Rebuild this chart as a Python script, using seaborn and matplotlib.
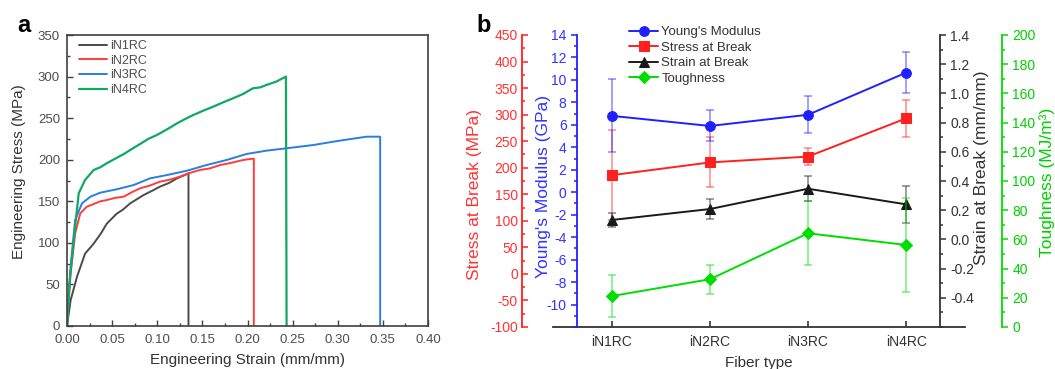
import matplotlib
matplotlib.use("Agg")
import matplotlib.pyplot as plt
import seaborn as sns
import numpy as np
from matplotlib.ticker import MultipleLocator, FormatStrFormatter

# ---- panel a: stress-strain curves ----
n1_strain = [0, 0.004, 0.011, 0.020, 0.0295, 0.038, 0.044, 0.055, 0.062, 0.070, 0.085, 0.095,
             0.103, 0.113, 0.122, 0.1346, 0.1346]
n1_stress = [0, 31, 59, 87, 99, 112, 123, 135, 140, 147.5, 157.6, 163, 167.6, 172, 177.6, 183.6, 0]

n2_strain = [0, 0.004, 0.009, 0.0147, 0.022, 0.0295, 0.037, 0.044, 0.053, 0.063, 0.072, 0.081,
             0.092, 0.103, 0.114, 0.125, 0.136, 0.147, 0.158, 0.170, 0.181, 0.192, 0.200, 0.207, 0.207]
n2_stress = [0, 63, 111, 135.5, 143.5, 146.7, 150, 151.5, 154, 155.6, 161, 165.6, 169, 173.6,
             176, 179.6, 184, 187.6, 189.5, 193.7, 196, 198.9, 200.5, 201.3, 0]

n3_strain = [0, 0.004, 0.009, 0.0166, 0.026, 0.037, 0.055, 0.074, 0.092, 0.111, 0.133, 0.155,
             0.177, 0.199, 0.221, 0.243, 0.273, 0.302, 0.332, 0.347, 0.347]
n3_stress = [0, 71, 127.5, 147.5, 155.6, 160.4, 164.4, 169.6, 177.6, 181.6, 186.8, 193.7,
             199.7, 206.9, 210.9, 213.7, 217.7, 222.9, 227.7, 227.7, 0]

n4_strain = [0, 0.0026, 0.0074, 0.013, 0.020, 0.0295, 0.037, 0.044, 0.053, 0.063, 0.072, 0.081,
             0.090, 0.0995, 0.110, 0.122, 0.131, 0.140, 0.151, 0.162, 0.173, 0.184, 0.195, 0.206,
             0.214, 0.221, 0.232, 0.2426, 0.2433]
n4_stress = [0, 51, 103, 159.6, 175.6, 187.6, 191, 195.7, 201, 206.9, 213, 218.9, 225, 229.7,
             236, 243.8, 249, 253.8, 259, 263.8, 269, 273.9, 279, 285.9, 287, 289.9, 294, 300, 0]

curve_names = ["iN1RC", "iN2RC", "iN3RC", "iN4RC"]
curve_colors = ["#4a4a4a", "#ff3c3c", "#2a7de1", "#11a862"]

# ---- panel b: properties per fiber type ----
fibers = ["iN1RC", "iN2RC", "iN3RC", "iN4RC"]
modulus = [6.8, 5.9, 6.9, 10.65]
modulus_err = [3.25, 1.38, 1.63, 1.8]
stress_break = [186, 210, 221, 293]
stress_err = [85, 47, 16.6, 34.5]
strain_break = [0.133, 0.208, 0.347, 0.24]
strain_err = [0.05, 0.07, 0.085, 0.125]
toughness = [21.2, 32.7, 64.2, 56.2]
toughness_err = [14.5, 10, 22, 32]

sns.set_theme(style="ticks")
plt.rcParams["font.family"] = ["Liberation Sans", "DejaVu Sans"]

W, H = 1055, 369
fig = plt.figure(figsize=(W / 100, H / 100), dpi=100)

# ================= panel a =================
ax = fig.add_axes([67 / W, 1 - 326 / H, 361 / W, 291 / H])
curves = [(n1_strain, n1_stress), (n2_strain, n2_stress), (n3_strain, n3_stress), (n4_strain, n4_stress)]
for (xs, ys), name, c in zip(curves, curve_names, curve_colors):
    sns.lineplot(x=xs, y=ys, sort=False, estimator=None, color=c,
                 lw=1.6 if name == "iN4RC" else 1.4, label=name, ax=ax)

ax.set_xlim(0, 0.40)
ax.set_ylim(0, 350)
ax.xaxis.set_major_locator(MultipleLocator(0.05))
ax.xaxis.set_minor_locator(MultipleLocator(0.025))
ax.xaxis.set_major_formatter(FormatStrFormatter("%.2f"))
ax.yaxis.set_major_locator(MultipleLocator(50))
ax.yaxis.set_minor_locator(MultipleLocator(25))
ax.tick_params(which="both", direction="in", color="#404040", labelsize=9.5,
               labelcolor="#4d4d4d", width=1)
ax.tick_params(which="major", length=4)
ax.tick_params(which="minor", length=2.5)
ax.tick_params(axis="x", pad=6)
ax.tick_params(axis="y", pad=5)
for s in ax.spines.values():
    s.set_color("#404040")
    s.set_linewidth(1.2)

ax.set_xlabel("Engineering Strain (mm/mm)", fontsize=11, color="#333333")
ax.set_ylabel("Engineering Stress (MPa)", fontsize=11, color="#333333")
ax.xaxis.set_label_coords(0.5, (326 - 353) / 291)
ax.yaxis.set_label_coords((26 - 67) / 361, (326 - 172) / 291)

leg = ax.legend(loc="upper left", bbox_to_anchor=(79 / W, 1 - 40 / H), bbox_transform=fig.transFigure,
                frameon=False, fontsize=9, handlelength=2.2, handletextpad=0.3,
                labelspacing=0.22, borderpad=0, borderaxespad=0)
for t in leg.get_texts():
    t.set_color("#4d4d4d")

fig.text(17 / W, 1 - 32 / H, "a", fontsize=17, fontweight="bold", color="black")

# ================= panel b =================
red, blue, black, green = "#ff2020", "#2020ff", "#1a1a1a", "#00dd00"
pos = list(range(len(fibers)))

axr = fig.add_axes([553 / W, 1 - 327 / H, 412 / W, 292 / H])
axb = axr.twinx()
axk = axr.twinx()
axg = axr.twinx()

series = [
    (axr, stress_break, stress_err, red, "s", "Stress at Break"),
    (axb, modulus, modulus_err, blue, "o", "Young's Modulus"),
    (axk, strain_break, strain_err, black, "^", "Strain at Break"),
    (axg, toughness, toughness_err, green, "D", "Toughness"),
]
for a, vals, errs, c, m, name in series:
    a.errorbar(pos, vals, yerr=errs, fmt="none", ecolor=c, alpha=0.45,
               capsize=3, elinewidth=1.3, capthick=1.3)
    sns.lineplot(x=pos, y=vals, color=c, marker=m, markersize=7 if m != "D" else 6.5,
                 markeredgecolor=c, lw=1.4, label=name, ax=a)

axr.set_xlim(-0.6, 3.6)
axr.set_xticks(pos)
axr.set_xticklabels(fibers)
axr.set_xlabel("Fiber type", fontsize=11, color="#333333")
axr.xaxis.set_label_coords(0.5, (327 - 356) / 292)
axr.tick_params(axis="x", direction="in", length=4, color="#333333", labelsize=10,
                labelcolor="#333333", width=1.2, pad=6)

# spines
for a in (axr, axb, axk, axg):
    for s in a.spines.values():
        s.set_visible(False)
axr.spines["bottom"].set_visible(True)
axr.spines["bottom"].set_color("#333333")
axr.spines["bottom"].set_linewidth(1.3)

def style_y(a, side, frac, color, lim, minor, ticks, fmt, direction, label, lab_x, lab_y, labcolor):
    a.set_ylim(*lim)
    if side == "left":
        a.yaxis.tick_left()
        a.yaxis.set_label_position("left")
    else:
        a.yaxis.tick_right()
        a.yaxis.set_label_position("right")
    sp = a.spines[side]
    sp.set_visible(True)
    sp.set_position(("axes", frac))
    sp.set_color(color)
    sp.set_linewidth(1.3)
    a.set_yticks(ticks)
    a.yaxis.set_minor_locator(MultipleLocator(minor))
    a.yaxis.set_major_formatter(FormatStrFormatter(fmt))
    a.tick_params(axis="y", which="both", direction=direction, color=color,
                  labelcolor=labcolor, labelsize=10, width=1.1, pad=3)
    a.tick_params(axis="y", which="major", length=4.5)
    a.tick_params(axis="y", which="minor", length=2.5)
    a.set_ylabel(label, fontsize=12.5, color=labcolor)
    a.yaxis.set_label_coords(lab_x, lab_y)

style_y(axr, "left", (522 - 553) / 412, red, (-100, 450), 25, np.arange(-100, 451, 50), "%d",
        "in", "Stress at Break (MPa)", (482 - 553) / 412, (327 - 195) / 292, "#ff3333")
style_y(axb, "left", (577 - 553) / 412, blue, (-12, 14), 1, np.arange(-10, 15, 2), "%d",
        "out", "Young's Modulus (GPa)", (551 - 553) / 412, (327 - 187) / 292, "#3333ff")
style_y(axk, "right", (940 - 553) / 412, "#333333", (-0.6, 1.4), 0.1, np.round(np.arange(-0.4, 1.41, 0.2), 1), "%.1f",
        "out", "Strain at Break (mm/mm)", (974 - 553) / 412, (327 - 168) / 292, "#333333")
style_y(axg, "right", (1002 - 553) / 412, green, (0, 200), 10, np.arange(0, 201, 20), "%d",
        "out", "Toughness (MJ/m³)", (1039 - 553) / 412, (327 - 182) / 292, "#00d000")

handles, labels = [], []
for a in (axb, axr, axk, axg):
    h, l = a.get_legend_handles_labels()
    handles += h
    labels += l
    a.get_legend().remove()

axg.legend(handles, labels, loc="upper left", bbox_to_anchor=(629 / W, 1 - 26 / H),
           bbox_transform=fig.transFigure, frameon=False, fontsize=9.5, handlelength=2.2,
           handletextpad=0.25, labelspacing=0.25, borderpad=0, borderaxespad=0,
           labelcolor="#333333")

fig.text(476 / W, 1 - 32 / H, "b", fontsize=17, fontweight="bold", color="black")

fig.savefig("out.png", dpi=100)
